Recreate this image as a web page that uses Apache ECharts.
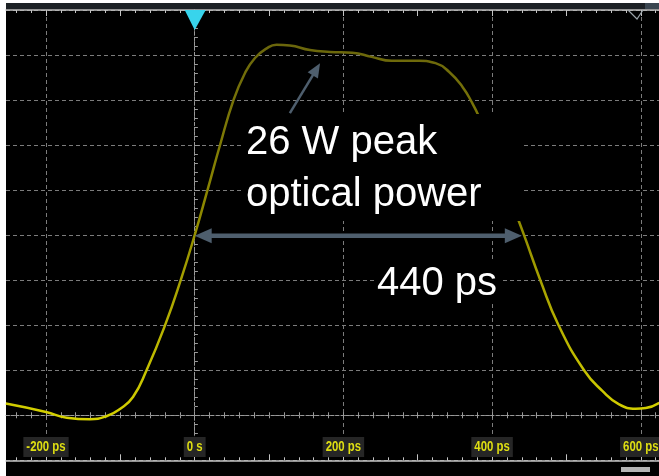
<!DOCTYPE html>
<html>
<head>
<meta charset="utf-8">
<script src="https://cdn.jsdelivr.net/npm/echarts@6/dist/echarts.min.js"></script>
<style>
  html, body { margin: 0; padding: 0; background: #ffffff; }
  #screen { position: absolute; left: 6px; top: 3px; width: 653px; height: 473px; background: #000000; }
  #chart { position: absolute; left: 0; top: 0; width: 659px; height: 476px; }
</style>
</head>
<body>
<div id="screen"></div>
<div id="chart"></div>
<script>
// Optical pulse trace: time in picoseconds, power in watts
const timePs = [-254, -200, -172, -141, -118, -100.5, -83, -64.6, -39.7, -18.7, 0, 17.2, 34, 52.2,
  67.7, 81.1, 96.9, 110, 128, 155, 182, 212, 238, 265, 302, 324, 342, 360, 373.4, 382.4, 401, 421,
  443, 464.9, 489.4, 523.7, 548.3, 570.8, 593.2, 606.7, 625];
const powerW = [0.82, 0.23, -0.17, -0.28, -0.05, 0.44, 1.28, 3.18, 6.34, 9.50, 12.64, 15.80, 18.95, 22.12,
  24.02, 25.07, 25.75, 26.0, 25.95, 25.63, 25.50, 25.44, 25.15, 24.87, 24.87, 24.71, 24.11, 23.06, 21.9,
  20.95, 18.6, 15.7, 12.64, 9.48, 6.32, 3.16, 1.71, 0.77, 0.46, 0.51, 0.88];

// Horizontal scale labels
const majorTimeTicks = [-200, 0, 200, 400, 600];
const timeTickLabels = ['-200 ps', '0 s', '200 ps', '400 ps', '600 ps'];

// Annotated quantities
const peakPowerW = 26;
const pulseWidthPs = 440;
const widthLevelW = 12.6;
const peakArrowFrom = [128, 21.2];
const peakArrowTo = [168.6, 24.7];

// Screen extent
const tMin = -253.8, tMax = 624.5;
const wattsPerDiv = 3.16;
const yMin = -wattsPerDiv, yMax = 9 * wattsPerDiv;

function steps(a, b, s) { const r = []; for (let v = a; v <= b + 1e-9; v += s) r.push(v); return r; }
const fineTicks = steps(-240, 620, 20);
const midTicks = steps(-200, 600, 100);

const borderColor = '#c4c4c4';
const crossColor = '#9a9a9a';
const gridDash = { color: '#7c7c7c', width: 1, type: [4, 3] };

function timeAxis(extra) {
  return Object.assign({
    type: 'value', min: tMin, max: tMax,
    splitLine: { show: false },
    axisLabel: { show: false },
    axisTick: { show: false },
    axisLine: { show: false, onZero: false }
  }, extra);
}
function powerAxis(extra) {
  return Object.assign({
    type: 'value', min: yMin, max: yMax, interval: wattsPerDiv,
    splitLine: { show: false },
    axisLabel: { show: false },
    axisTick: { show: false },
    axisLine: { show: false, onZero: true }
  }, extra);
}

const chart = echarts.init(document.getElementById('chart'), null, { renderer: 'canvas' });

chart.setOption({
  animation: false,
  backgroundColor: 'transparent',
  grid: { left: 6, right: 0, top: 10, bottom: 15.7, outerBoundsMode: 'none', containLabel: false },
  xAxis: [
    // bottom border
    timeAxis({
      position: 'bottom',
      axisLine: { show: true, onZero: false, lineStyle: { color: borderColor, width: 1.5 } },
      axisTick: { show: true, inside: true, length: 3, customValues: fineTicks, lineStyle: { color: borderColor } }
    }),
    timeAxis({ position: 'bottom',
      axisTick: { show: true, inside: true, length: 6, customValues: midTicks, lineStyle: { color: borderColor } } }),
    // top border
    timeAxis({ position: 'top',
      axisLine: { show: true, onZero: false, lineStyle: { color: borderColor, width: 1.5 } },
      axisTick: { show: true, inside: true, length: 3, customValues: fineTicks, lineStyle: { color: borderColor } } }),
    timeAxis({ position: 'top',
      axisTick: { show: true, inside: true, length: 6, customValues: midTicks, lineStyle: { color: borderColor } } }),
    // vertical graticule
    timeAxis({ position: 'bottom',
      axisTick: { show: false, customValues: majorTimeTicks },
      splitLine: { show: true, lineStyle: gridDash } }),
    // horizontal crosshair at 0 W
    timeAxis({ position: 'bottom',
      axisLine: { show: true, onZero: true, lineStyle: { color: crossColor, width: 1, type: [3, 2] } },
      axisTick: { show: true, inside: true, length: 3, customValues: fineTicks, lineStyle: { color: crossColor } } }),
    timeAxis({ position: 'bottom',
      axisLine: { show: false, onZero: true },
      axisTick: { show: true, inside: false, length: 3, customValues: fineTicks, lineStyle: { color: crossColor } } })
  ],
  yAxis: [
    powerAxis({
      splitLine: { show: true, lineStyle: gridDash },
      axisLine: { show: true, onZero: true, lineStyle: { color: crossColor, width: 1, type: [3, 2] } },
      axisTick: { show: true, inside: true, length: 5, lineStyle: { color: crossColor } },
      minorTick: { show: true, splitNumber: 5, length: 3, lineStyle: { color: crossColor } }
    }),
    powerAxis({
      axisLine: { show: false, onZero: true },
      axisTick: { show: true, inside: false, length: 5, lineStyle: { color: crossColor } },
      minorTick: { show: true, splitNumber: 5, length: 3, lineStyle: { color: crossColor } }
    })
  ],
  series: [{
    type: 'line',
    xAxisIndex: 0, yAxisIndex: 0,
    data: timePs.map((t, i) => [t, powerW[i]]),
    showSymbol: false,
    smooth: 0.5,
    clip: true,
    lineStyle: {
      width: 2.5,
      color: new echarts.graphic.LinearGradient(0, 0, 0, 1, [
        { offset: 0, color: '#6a660c' },
        { offset: 0.45, color: '#8e8900' },
        { offset: 1, color: '#d6d200' }
      ])
    },
    z: 3
  }]
});

// Annotations placed through the chart's own scales
const toPx = p => chart.convertToPixel({ xAxisIndex: 0, yAxisIndex: 0 }, p);
const arrowColor = '#4e5e6d';

function head(tip, from, len, halfW) {
  const dx = tip[0] - from[0], dy = tip[1] - from[1];
  const d = Math.hypot(dx, dy), ux = dx / d, uy = dy / d;
  const bx = tip[0] - ux * len, by = tip[1] - uy * len;
  return { type: 'polygon', z: 20, shape: { points: [tip, [bx - uy * halfW, by + ux * halfW], [bx + uy * halfW, by - ux * halfW]] },
    style: { fill: arrowColor } };
}
function shaft(a, b, len, width) {
  const dx = b[0] - a[0], dy = b[1] - a[1];
  const d = Math.hypot(dx, dy), ux = dx / d, uy = dy / d;
  return { type: 'line', z: 20,
    shape: { x1: a[0] + ux * len[0], y1: a[1] + uy * len[0], x2: b[0] - ux * len[1], y2: b[1] - uy * len[1] },
    style: { stroke: arrowColor, lineWidth: width } };
}

// Condensed scale readouts in dark boxes, placed at each major time tick
const readoutFont = 'bold 15px "Liberation Sans", Arial, sans-serif';
const readoutScale = 0.76;
const readouts = majorTimeTicks.map((t, i) => {
  const p = toPx([t, 0]);
  const label = timeTickLabels[i];
  const w = echarts.format.getTextRect ? echarts.format.getTextRect(label, readoutFont).width * readoutScale : label.length * 6;
  return {
    type: 'group', z: 8, x: p[0], y: 447,
    children: [
      { type: 'rect', z: 8, shape: { x: -w / 2 - 3, y: -10, width: w + 6, height: 20 }, style: { fill: '#262626' } },
      { type: 'text', z: 9, scaleX: readoutScale, style: { text: label, font: readoutFont, fill: '#dede12', align: 'center', verticalAlign: 'middle' } }
    ]
  };
});

const spanA = toPx([0, widthLevelW]);
const spanB = toPx([pulseWidthPs, widthLevelW]);
const peakA = toPx(peakArrowFrom);
const peakB = toPx(peakArrowTo);
const trig = toPx([0, yMax]);

const textFont = '40px "Liberation Sans", Arial, sans-serif';

chart.setOption({
  graphic: [
    // status strip above the graticule
    { type: 'rect', z: 5, shape: { x: 6, y: 3, width: 653, height: 6 }, style: { fill: '#1c2125' } },
    { type: 'rect', z: 5, shape: { x: 645, y: 3, width: 14, height: 6 }, style: { fill: '#3a4650' } },
    // trigger position marker
    { type: 'polygon', z: 6, shape: { points: [[trig[0] - 10, trig[1]], [trig[0] + 11, trig[1]], [trig[0], trig[1] + 20]] },
      style: { fill: '#38d4ec' } },
    // reference marker, top right
    { type: 'polyline', z: 6, shape: { points: [[628, 10], [637, 19], [643, 10]] },
      style: { stroke: '#9aa2a8', lineWidth: 1.2, fill: null } },
    // scroll indicator
    { type: 'rect', z: 5, shape: { x: 621, y: 467, width: 29, height: 5 }, style: { fill: '#b4b4b4' } },

    ...readouts,

    // text panels
    { type: 'rect', z: 10, shape: { x: 243, y: 114, width: 279, height: 107 }, style: { fill: '#000000' } },
    { type: 'rect', z: 10, shape: { x: 376, y: 262, width: 124, height: 40 }, style: { fill: '#000000' } },
    { type: 'text', z: 11, x: 246, y: 143, style: { text: peakPowerW + ' W peak', font: textFont, fill: '#ffffff', verticalAlign: 'middle' } },
    { type: 'text', z: 11, x: 246, y: 194.5, style: { text: 'optical power', font: textFont, fill: '#ffffff', verticalAlign: 'middle' } },
    { type: 'text', z: 11, x: 377, y: 284, style: { text: pulseWidthPs + ' ps', font: textFont, fill: '#ffffff', verticalAlign: 'middle' } },

    // pulse width arrow
    shaft(spanA, spanB, [14, 14], 4.5),
    head(spanA, spanB, 17, 7.5),
    head(spanB, spanA, 17, 7.5),
    // peak pointer
    shaft(peakA, peakB, [0, 12], 2.5),
    head(peakB, peakA, 14, 6)
  ]
});
</script>
</body>
</html>
